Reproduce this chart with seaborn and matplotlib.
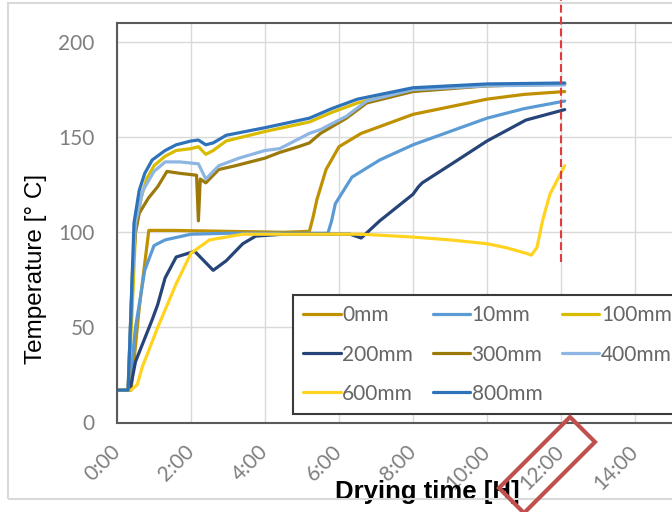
import pandas as pd
import numpy as np
import matplotlib.pyplot as plt
import seaborn as sb
from matplotlib.patches import Polygon, Rectangle
import warnings
warnings.filterwarnings('ignore')

# --- data (time in hours, temperature in deg C) ---

series = ['0mm', '10mm', '100mm', '200mm', '300mm', '400mm', '600mm', '800mm']
colors = ['#BF9000', '#5B9BD5', '#D9BC00', '#264478', '#9C7A0A', '#8DB6E2', '#FFD320', '#2E72BA']

t_0mm = [0, 0.38, 0.6, 0.86, 1.5, 3.0, 4.5, 5.2, 5.3, 5.4, 5.65, 6.0, 6.6, 7.3, 8.0, 9.0, 10.0, 11.0, 12.1]
T_0mm = [17, 17, 60, 101, 101, 100.5, 100, 100.5, 108, 117, 133, 145, 152, 157, 162, 166, 170, 172.5, 174]

t_10mm = [0, 0.33, 0.5, 0.75, 1.0, 1.3, 2.0, 3.0, 5.7, 5.8, 5.9, 6.35, 7.1, 8.0, 9.0, 10.0, 11.0, 12.1]
T_10mm = [17, 17, 50, 80, 93, 96, 99, 99.5, 99.5, 106, 115, 129, 138, 146, 153, 160, 165, 169]

t_100mm = [0, 0.3, 0.4, 0.5, 0.65, 0.8, 1.0, 1.3, 1.6, 2.0, 2.2, 2.4, 2.6, 2.95, 4.0, 5.2, 5.8, 6.5, 8.0, 10.0, 12.1]
T_100mm = [17, 17, 55, 100, 118, 128, 135, 140, 143, 144, 145, 141, 143, 148, 153, 158, 163, 168, 175, 177, 178]

t_200mm = [0, 0.35, 0.5, 0.95, 1.1, 1.3, 1.6, 2.1, 2.4, 2.6, 2.95, 3.4, 3.75, 4.5, 6.3, 6.6, 7.1, 8.0, 8.15, 8.25, 9.05, 10.0, 11.05, 12.1]
T_200mm = [17, 17, 32, 54, 62, 76, 87, 90, 84, 80, 85, 94, 98, 99, 99, 97, 106, 120, 124, 126, 136, 148, 159, 164.5]

t_300mm = [0, 0.3, 0.42, 0.5, 0.6, 0.85, 1.1, 1.35, 1.7, 2.15, 2.2, 2.25, 2.4, 2.75, 3.2, 4.0, 4.4, 4.9, 5.2, 5.5, 6.2, 6.75, 8.0, 10.0, 12.1]
T_300mm = [17, 17, 80, 100, 110, 118, 124, 132, 131, 130, 106, 128, 126, 133, 135, 139, 142, 145, 147, 152, 160, 168, 174, 177, 178]

t_400mm = [0, 0.3, 0.4, 0.5, 0.7, 1.0, 1.3, 1.7, 2.2, 2.4, 2.75, 3.3, 4.0, 4.4, 5.2, 5.5, 6.2, 6.75, 8.0, 10.0, 12.1]
T_400mm = [17, 17, 70, 105, 122, 132, 137, 137, 136, 128, 135, 139, 143, 144, 152, 154, 161, 169, 175, 177, 177.5]

t_600mm = [0, 0.38, 0.55, 0.68, 1.1, 1.6, 2.0, 2.5, 3.4, 6.6, 8.0, 9.0, 10.0, 10.5, 11.05, 11.2, 11.35, 11.5, 11.7, 12.1]
T_600mm = [17, 17, 20, 29, 50, 73, 89, 96, 99, 99, 97.5, 96, 94, 92, 89, 88, 92, 106, 120, 135]

t_800mm = [0, 0.3, 0.38, 0.46, 0.6, 0.75, 0.95, 1.3, 1.6, 2.0, 2.2, 2.4, 2.6, 2.95, 4.0, 5.2, 5.8, 6.5, 8.0, 10.0, 12.1]
T_800mm = [17, 17, 60, 105, 122, 131, 138, 143, 146, 148, 148.5, 146, 147, 151, 155, 160, 165, 170, 176, 178, 178.5]

x_ticks = [0, 2, 4, 6, 8, 10, 12, 14]
x_ticklabels = ['0:00', '2:00', '4:00', '6:00', '8:00', '10:00', '12:00', '14:00']
y_ticks = [0, 50, 100, 150, 200]

# --- Cell ---

times = [t_0mm, t_10mm, t_100mm, t_200mm, t_300mm, t_400mm, t_600mm, t_800mm]
temps = [T_0mm, T_10mm, T_100mm, T_200mm, T_300mm, T_400mm, T_600mm, T_800mm]
df = pd.concat([pd.DataFrame({'time': t, 'temp': T, 'depth': s})
                for s, t, T in zip(series, times, temps)], ignore_index=True)

# --- Cell ---

sb.set_style('white')
plt.rcParams['font.family'] = ['Lato', 'DejaVu Sans']

W, H = 672, 512
fig = plt.figure(figsize=(W / 100, H / 100), dpi=100)
# plot area runs past the right edge, like the cropped original
ax = fig.add_axes([117 / W, (H - 422.5) / H, (709 - 117) / W, 400 / H])

sb.lineplot(data=df, x='time', y='temp', hue='depth', hue_order=series,
            palette=dict(zip(series, colors)), sort=False, estimator=None,
            linewidth=2.3, ax=ax)

ax.set_xlim(0, 16)
ax.set_ylim(0, 210.3)
ax.set_xticks(x_ticks)
ax.set_xticklabels(x_ticklabels, rotation=45, ha='right', va='center', rotation_mode='anchor')
ax.set_yticks(y_ticks)
ax.tick_params(axis='both', length=0, labelsize=15, labelcolor='#7F7F7F')
ax.tick_params(axis='x', pad=19)
ax.tick_params(axis='y', pad=16)
ax.grid(True, color='#D9D9D9', linewidth=1)
ax.axvline(16, color='#D9D9D9', linewidth=1, zorder=0)
for sp in ax.spines.values():
    sp.set_color('#5A5A5A')
    sp.set_linewidth(1.5)

ax.set_ylabel('Temperature [° C]', fontsize=17.5, family='Liberation Sans', color='black')
ax.yaxis.set_label_coords((36 - 117) / 592, (422.5 - 269) / 400)
ax.yaxis.label.set_va('center')
ax.set_xlabel('Drying time [H]', fontsize=18.5, family='Liberation Sans', fontweight='bold', color='black')
ax.xaxis.set_label_coords((427 - 117) / 592, (422.5 - 492) / 400)
ax.xaxis.label.set_va('center')

# red dashed marker at 12 h
ax.axvline(12, ymin=(422.5 - 262) / 400, ymax=422.5 / 400, color='#E23B3B',
           linestyle=(0, (3.8, 1.9)), linewidth=1.5, clip_on=False, zorder=5)

# legend filled row by row (matplotlib fills columns, so reorder)
handles, labels = ax.get_legend_handles_labels()
order = [0, 3, 6, 1, 4, 7, 2, 5]
leg = ax.legend([handles[i] for i in order], [labels[i] for i in order], ncol=3, loc='upper left',
                bbox_to_anchor=(293 / W, 1 - 295 / H), bbox_transform=fig.transFigure,
                borderaxespad=0, borderpad=0.5, handlelength=1.78, handletextpad=0.08,
                columnspacing=0.95, labelspacing=0.92, fontsize=15, labelcolor='#666666',
                frameon=True, fancybox=False, framealpha=1, edgecolor='#3A3A3A')
leg.get_frame().set_linewidth(1.5)
for h in leg.legend_handles:
    h.set_linewidth(2.3)

# outer chart border
fig.add_artist(Rectangle((8 / W, 1 - 499 / H), 700 / W, 496 / H, transform=fig.transFigure,
                         fill=False, edgecolor='#D9D9D9', linewidth=1.5))

# red box around the 12:00 label
box = [(570, 417), (595, 442), (524, 513), (499, 488)]
fig.add_artist(Polygon([(x / W, 1 - y / H) for x, y in box], closed=True, fill=False,
                       edgecolor='#C0504D', linewidth=3, transform=fig.transFigure, zorder=10))

plt.savefig('out.png', dpi=100)
